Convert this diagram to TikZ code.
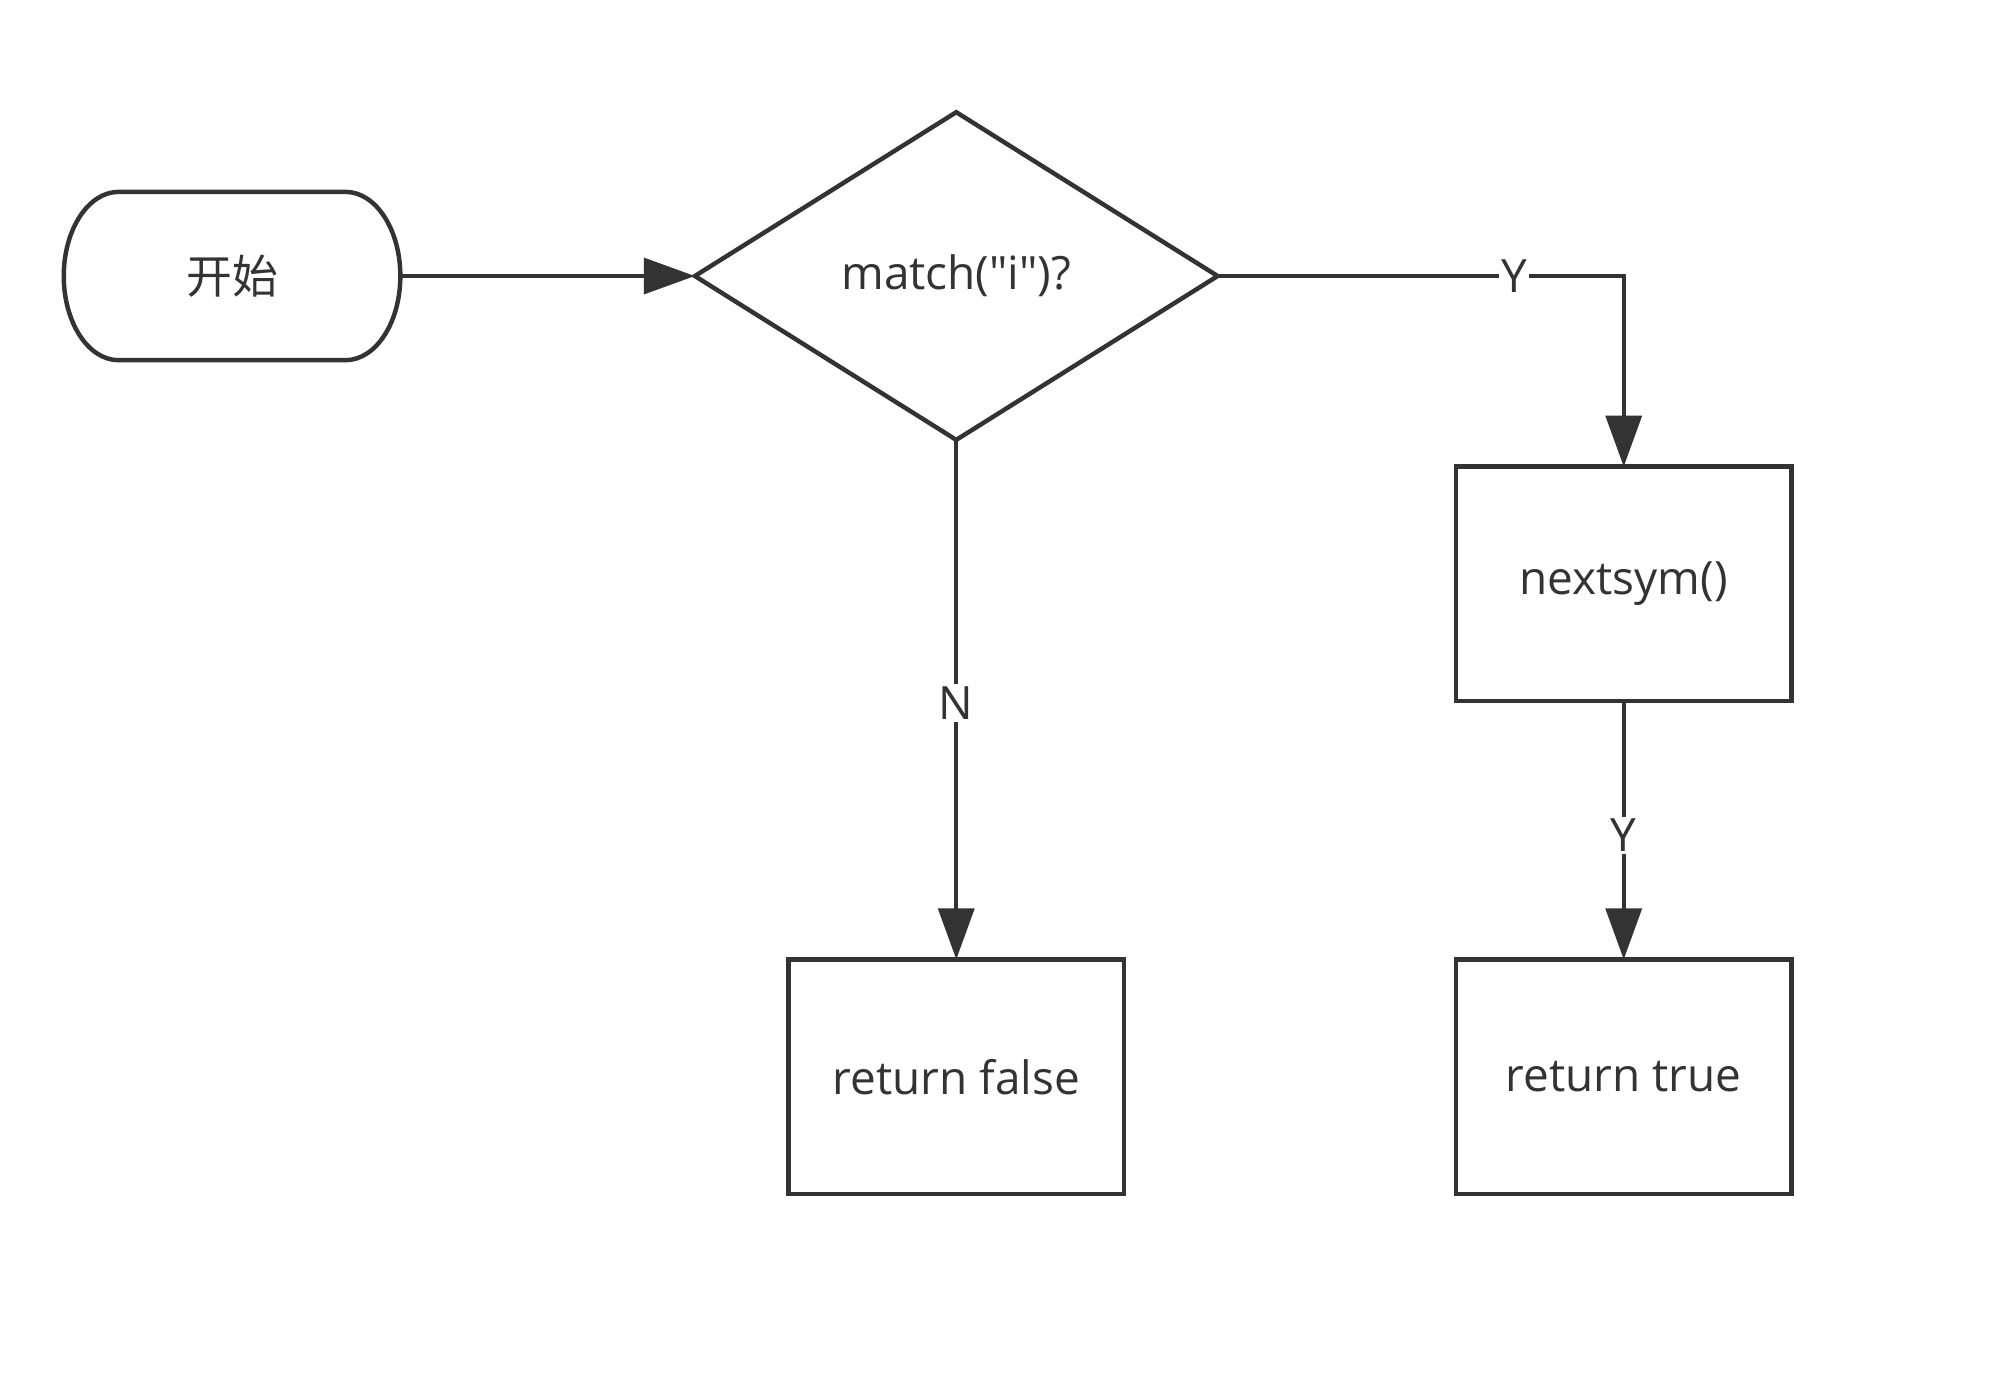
\documentclass[tikz,border=0pt]{standalone}
\usepackage{fontspec}
\setmainfont{Open Sans}[Ligatures=TeXOff]
\newfontfamily\cjk{Noto Sans CJK SC}
\usetikzlibrary{shapes.geometric,arrows.meta}
\definecolor{ink}{HTML}{333333}
\begin{document}
\begin{tikzpicture}[x=1pt,y=-1pt,
  every node/.style={font=\fontsize{36}{43}\selectfont, text=ink, outer sep=0pt},
  ln/.style={draw=ink, line width=3.5pt},
  box/.style={ln, rectangle, minimum width=263pt, minimum height=184pt},
  dec/.style={ln, diamond, minimum width=410pt, minimum height=257pt, inner sep=0pt},
  conn/.style={ln, -{Triangle[length=40pt,width=28pt]}, fill=none},
  lbl/.style={fill=white, inner sep=2pt}]
\useasboundingbox (0,0) rectangle (1560,1096.4);
\node[minimum width=264pt, minimum height=132pt, inner sep=0pt] (start) at (182,216.5) {\cjk 开始};
\draw[ln] ([xshift=43pt]start.north west) -- ([xshift=-43pt]start.north east)
  arc[start angle=90, end angle=-90, x radius=43pt, y radius=66pt]
  -- ([xshift=43pt]start.south west)
  arc[start angle=270, end angle=90, x radius=43pt, y radius=66pt] -- cycle;
\node[dec] (d) at (750,216.5) {match("i")?};
\node[box] (next) at (1273.5,458) {nextsym()};
\node[box] (rf) at (750,844.5) {return false};
\node[box] (rt) at (1273.5,844.5) {return true};
\draw[conn] (start.east) -- (d.west);
\draw[conn] (d.east) -| node[lbl, pos=0.365] {Y} (next.north);
\draw[conn] (d.south) -- node[lbl, pos=0.506] {N} (rf.north);
\draw[conn] (next.south) -- node[lbl, pos=0.52] {Y} (rt.north);
\end{tikzpicture}
\end{document}
